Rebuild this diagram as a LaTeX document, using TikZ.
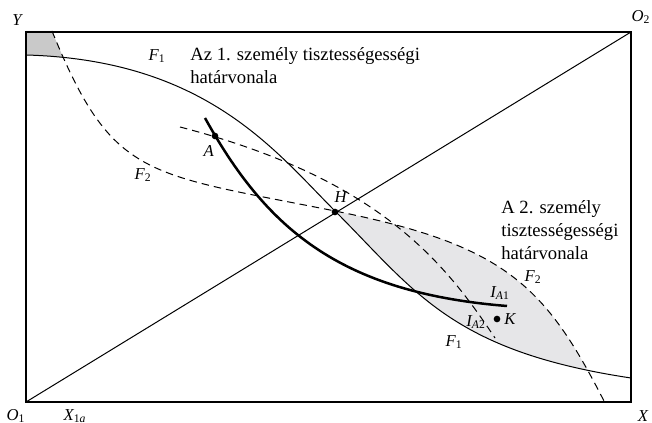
\documentclass[tikz,border=0pt]{standalone}
\usepackage{fontspec}
\setmainfont{Liberation Serif}
\usetikzlibrary{positioning}
\definecolor{cLens}{RGB}{230,230,232}
\definecolor{cCorner}{RGB}{201,201,201}
\tikzset{
	frame/.style   ={draw=black, line width=0.8pt},
	thinline/.style={draw=black, line width=0.6pt},
	pref/.style    ={draw=black, line width=0.6pt, dash pattern=on 4.5pt off 3pt},
	indiff/.style  ={draw=black, line width=1.5pt},
	dot/.style     ={circle, fill=black, inner sep=0pt, minimum size=4pt},
	lbl/.style     ={inner sep=0pt, font=\itshape},
	caption/.style ={inner sep=0pt, align=left},
}
\newcommand{\sub}[1]{\textsubscript{#1}}
% fairness boundaries of the two persons
\def\fairOne{(26,55) .. controls (206,60) and (275,151) .. (335,211) .. controls (415,291) and (451,351) .. (631,378)}
\def\fairTwo{(52,31) .. controls (112.5,179.5) and (145,173) .. (335,211) .. controls (505,245) and (545,285) .. (605,403)}

\begin{document}
\begin{tikzpicture}[x=0.6pt, y=-0.6pt, font=\fontsize{11.2}{14}\selectfont]
	\useasboundingbox (0,0) rectangle (652,423);
	\coordinate (O1) at (26,402);
	\coordinate (O2) at (631,32);
	% shaded regions
	\begin{scope}
		\clip \fairTwo -- (26,403) -- (26,31) -- cycle;
		\begin{scope}
			\clip (200,0) rectangle (652,423);
			\fill[cLens] \fairOne -- (631,31) -- (26,31) -- cycle;
		\end{scope}
		\begin{scope}
			\clip (0,0) rectangle (200,423);
			\fill[cCorner] \fairOne -- (631,31) -- (26,31) -- cycle;
		\end{scope}
	\end{scope}
	% box and diagonal
	\draw[frame] (O1) rectangle (O2);
	\draw[thinline] (O1) -- (O2);
	% curves
	\draw[thinline] \fairOne;
	\draw[pref] \fairTwo;
	\draw[pref] (180,127) .. controls (380,179) and (445,263) .. (495,338);
	\draw[indiff] (205,118) .. controls (265,226) and (337,292.4) .. (507,306);
	% points
	\node[dot] (A) at (215,136) {};
	\node[dot] (H) at (335,212) {};
	\node[dot] (K) at (497,319) {};
	\node[lbl, below left=4pt and -1pt of A] (lA) {A};
	\node[lbl, above right=4pt and -2pt of H] (lH) {H};
	\node[lbl, right=2pt of K] (lK) {K};
	% axis labels
	\node[lbl] (lY) at (17,20) {Y};
	\node[lbl] (lO2) at (641,17) {O\sub{\upshape 2}};
	\node[lbl] (lO1) at (16,416) {O\sub{\upshape 1}};
	\node[lbl] (lX1a) at (75,416) {X\sub{\upshape 1\itshape a}};
	\node[lbl] (lX) at (643,416) {X};
	% curve labels
	\node[lbl] (lF1a) at (157,56) {F\sub{\upshape 1}};
	\node[lbl] (lF1b) at (454,342) {F\sub{\upshape 1}};
	\node[lbl] (lF2a) at (143,175) {F\sub{\upshape 2}};
	\node[lbl] (lF2b) at (533,277) {F\sub{\upshape 2}};
	\node[lbl] (lIA1) at (500,293) {I\sub{A\upshape 1}};
	\node[lbl] (lIA2) at (476,322) {I\sub{A\upshape 2}};
	% texts
	\node[caption, anchor=north west] (t1) at (190,47) {Az 1. személy tisztességességi\\határvonala};
	\node[caption, anchor=north west] (t2) at (501,200) {A 2. személy\\tisztességességi\\határvonala};
\end{tikzpicture}
\end{document}
